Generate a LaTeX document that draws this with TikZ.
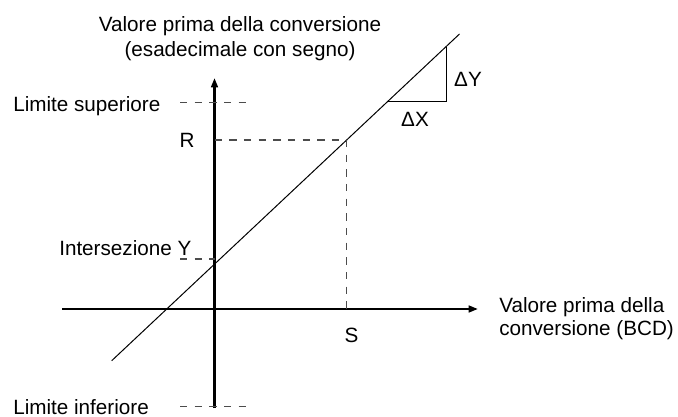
\documentclass[tikz,border=0pt]{standalone}
\usepackage{fontspec}
\setmainfont{Liberation Sans}
\usetikzlibrary{arrows.meta}
\begin{document}
\begin{tikzpicture}[x=0.75pt,y=-0.75pt,
  lbl/.style={inner sep=0pt,font=\fontsize{15.5}{18}\selectfont},
  axis/.style={line width=2.2pt,-{Triangle[length=7pt,width=5pt]}},
  guide/.style={line width=0.8pt,black!70,dash pattern=on 5.5pt off 5.5pt},
  thin/.style={line width=0.75pt}]
\useasboundingbox (0,0) rectangle (678,417);
% axes
\coordinate (xa0) at (62,309);
\coordinate (xa1) at (478,309);
\coordinate (ya0) at (214.5,408);
\coordinate (ya1) at (214.5,78);
\draw[axis] (xa0) -- (xa1);
\draw[axis] (ya0) -- (ya1);
% diagonal
\coordinate (d0) at (111.7,360.7);
\coordinate (d1) at (459.5,34);
\draw[thin] (d0) -- (d1);
% slope triangle
\coordinate (t0) at (387,101.7);
\coordinate (t1) at (446.7,101.7);
\coordinate (t2) at (446.7,47);
\draw[thin] (t0) -- (t1) -- (t2);
% guides
\coordinate (us0) at (180,102.5);
\coordinate (us1) at (252,102.5);
\coordinate (li0) at (180,406.5);
\coordinate (li1) at (252,406.5);
\coordinate (r0) at (214.5,140);
\coordinate (p) at (346.5,140);
\coordinate (s0) at (346.5,309);
\coordinate (iy0) at (180,259);
\coordinate (iy1) at (214.5,259);
\draw[guide] (us0) -- (us1);
\draw[guide] (li0) -- (li1);
\draw[guide] (r0) -- (p) -- (s0);
\draw[guide] (iy0) -- (iy1);
% labels
\node[lbl,anchor=base] (t1l) at (240,32) {Valore prima della conversione};
\node[lbl,anchor=base] (t2l) at (240,57) {(esadecimale con segno)};
\node[lbl,anchor=base west] (ls) at (13,111.7) {Limite superiore};
\node[lbl,anchor=base] (rl) at (187,147.5) {R};
\node[lbl,anchor=base] (dy) at (468,87) {ΔY};
\node[lbl,anchor=base] (dx) at (415,127) {ΔX};
\node[lbl,anchor=base west] (iy) at (59,255) {Intersezione Y};
\node[lbl,anchor=base] (sl) at (351.5,342) {S};
\node[lbl,anchor=base west] (xl1) at (499,312) {Valore prima della};
\node[lbl,anchor=base west] (xl2) at (499,335.5) {conversione (BCD)};
\node[lbl,anchor=base west,text depth=0pt] (li) at (13,414) {Limite inferiore};
\end{tikzpicture}
\end{document}
